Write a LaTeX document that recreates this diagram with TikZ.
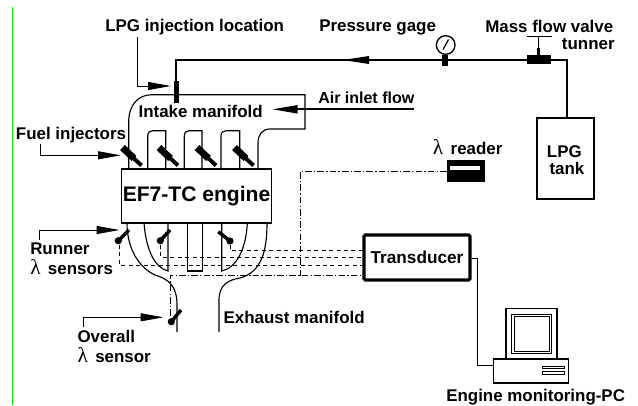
\documentclass[tikz,border=0pt]{standalone}
\usepackage{fontspec}
\setmainfont{Liberation Sans}
\newfontfamily\lamfont{Liberation Serif}
\usetikzlibrary{arrows.meta}
\newcommand{\lam}{{\mdseries\lamfont\fontsize{16pt}{16pt}\selectfont λ}\hspace{2pt}}
\tikzset{
  x=0.75pt,y=-0.75pt,
  lab/.style={inner sep=0pt,anchor=base west,font=\fontsize{12.7pt}{14pt}\selectfont\bfseries},
  thinline/.style={line width=0.75pt},
  wall/.style={line width=0.85pt},
  fuel/.style={line width=1.7pt},
  leader/.style={line width=0.6pt,-{Triangle[length=17pt,width=6pt]}},
  sig/.style={line width=0.65pt,dash pattern=on 3pt off 2.6pt},
  sigdot/.style={line width=0.65pt,dash pattern=on 5pt off 1.6pt on 1pt off 1.6pt},
  sensorstem/.style={line width=2.6pt},
  injwide/.style={line width=5.2pt},
  injtip/.style={line width=3pt},
  boxnode/.style={draw,inner sep=0pt,anchor=center},
}
\begin{document}
\begin{tikzpicture}
\useasboundingbox (0,0) rectangle (638,405);
\fill[white] (0,0) rectangle (638,405);
% green margin line
\coordinate (gt) at (12.5,7); \coordinate (gb) at (12.5,405);
\draw[line width=0.75pt,green!90!black] (gt) -- (gb);

% boxes
\node[boxnode,line width=1.3pt,minimum width=42.75pt,minimum height=60.75pt] (tank) at (565.5,158.5) {};
\node[boxnode,line width=1.1pt,minimum width=112.8pt,minimum height=40.5pt,font=\fontsize{15.8pt}{17pt}\selectfont\bfseries] (engine) at (196.5,196) {EF7-TC engine};
\node[boxnode,line width=2.3pt,rounded corners=1pt,minimum width=79.5pt,minimum height=33.75pt,font=\fontsize{12.9pt}{14pt}\selectfont\bfseries] (trans) at (417,257.5) {Transducer};
\node[boxnode,fill=black,minimum width=27.75pt,minimum height=15.4pt] (reader) at (465.5,170.7) {};
\fill[white] (450.3,165.7) rectangle (480.3,170);

% manifold
\draw[wall] (128.7,168) -- (128.7,122) .. controls (128.7,105) and (138,94.7) .. (152,94.7)
  -- (305,94.7) -- (305,129) -- (270,129) .. controls (262,129) and (258,135) .. (258,143) -- (258,168);
\foreach \a/\b in {147.7/165.7,184.3/202,221/239.7}{
  \draw[wall] (\a,168) -- (\a,136) .. controls (\a,132.5) and (\a+2,130.7) .. (\a+5,130.7) -- (\b,130.7) -- (\b,168);
}
% injectors
\foreach \d in {0,36.5,74.5,112}{
  \draw[injwide] (122.5+\d,147.5) -- (134+\d,158.5);
  \draw[injtip] (134+\d,158.5) -- (141.5+\d,165.5);
}

% exhaust
\draw[wall] (127,223) .. controls (127,250) and (140,268) .. (155,275) .. controls (168,279) and (177,285) .. (177,305) -- (177,332);
\draw[wall] (267,223) .. controls (267,250) and (262,272) .. (240,278) .. controls (228,280) and (219,285) .. (219,300) -- (219,332);
\draw[wall] (144,223) .. controls (146,250) and (155,268) .. (168,271) -- (168,223);
\draw[wall] (187.3,223) -- (187.3,271) -- (202.3,271) -- (202.3,223);
\draw[wall] (221.7,223) -- (221.7,271) .. controls (236,268) and (246,250) .. (247.3,223);

% fuel line
\coordinate (inj) at (176,81);
\coordinate (corner1) at (176,60);
\coordinate (corner2) at (566.7,60);
\draw[fuel] (inj) -- (corner1) -- (corner2) -- (tank.north -| corner2);
\fill (173.5,81) rectangle (178.5,103);
\fill (343,60) -- (369,56) -- (369,64) -- cycle;

% gauge
\node[draw,circle,line width=1pt,minimum size=14pt,inner sep=0pt,fill=white] (gauge) at (445.7,45) {};
\fill (442.3,55) rectangle (448.3,66);
\draw[line width=0.9pt] (443,49.5) -- (448.5,39.5);
% valve
\fill (526.7,55) rectangle (550.7,64);
\draw[line width=0.9pt] (526.7,36.7) -- (551.7,36.7);
\draw[line width=0.9pt] (538.3,37) -- (538.3,48);
\draw[line width=2.2pt] (538.3,47.5) -- (538.3,56);

% air inlet
\coordinate (airs) at (414,109.3);
\coordinate (aire) at (272.7,109.3);
\draw[line width=1.5pt] (airs) -- (297,109.3);
\fill (aire) -- (297.7,105) -- (297.7,113.6) -- cycle;

% sensors
\foreach \px/\py/\qx/\qy in {129/230/118.3/240.7, 170/230/160.3/240.7, 218.3/231.7/230/241, 181/310/171.3/321.7}{
  \draw[sensorstem] (\px,\py) -- (\qx,\qy);
  \fill (\qx,\qy) circle (3.6);
}

% signal wires
\coordinate (w1) at (119,245);
\coordinate (w2) at (160,245);
\coordinate (w3) at (230,245);
\coordinate (w4) at (170.5,316);
\draw[sig] (w1) -- (119,265) -- (trans.west |- 0,265);
\draw[sig] (w2) -- (160,257.3) -- (trans.west |- 0,257.3);
\draw[sig] (w3) -- (230,250.5) -- (trans.west |- 0,250.5);
\draw[sigdot] (w4) -- (170.5,275.5) -- (trans.west |- 0,275.5);
\draw[sigdot] (reader.west |- 0,171.7) -- (300,171.7) -- (300,275.5);

% PC
\node[boxnode,line width=1.1pt,minimum width=38.2pt,minimum height=38pt] (mon) at (531.5,333.7) {};
\node[boxnode,line width=1.1pt,minimum width=56.2pt,minimum height=18pt] (pc) at (531.2,371) {};
\draw[line width=0.7pt] (511.7,314.3) rectangle (551,353.3);
\draw[line width=0.5pt] (514.3,316.7) rectangle (549.7,351.7);
\draw[line width=0.55pt] (542.3,366) rectangle (564.3,368.7);
\draw[line width=0.55pt] (542.3,371.7) rectangle (564.3,374.3);
\draw[thinline] (trans.east |- 0,258) -- (477.3,258) -- (477.3,365) -- (pc.west |- 0,365);

% leaders
\coordinate (l1a) at (137,37.3); \coordinate (l1b) at (170.7,86);
\draw[leader] (l1a) |- (l1b);
\coordinate (l2a) at (40.3,144); \coordinate (l2b) at (120.7,155.3);
\draw[leader] (l2a) |- (l2b);
\coordinate (l3a) at (39.3,240); \coordinate (l3b) at (119.3,230);
\draw[leader] (l3a) |- (l3b);
\coordinate (l4a) at (83.3,327.3); \coordinate (l4b) at (163.3,317.3);
\draw[leader] (l4a) |- (l4b);

% labels
\node[lab] (t1) at (105,31) {LPG injection location};
\node[lab] (t2) at (319,31) {Pressure gage};
\node[lab] (t3) at (485,32) {Mass flow valve};
\node[lab] (t4) at (561.7,49) {tunner};
\node[lab] (t5) at (138.3,117.7) {Intake manifold};
\node[lab,font=\fontsize{12pt}{14pt}\selectfont\bfseries] (t6) at (318,103.3) {Air inlet flow};
\node[lab] (t7) at (15.7,139) {Fuel injectors};
\node[lab] (t8) at (30,254) {Runner};
\node[lab] (t9) at (30,274) {\lam\ sensors};
\node[lab] (t10) at (77.3,342.7) {Overall};
\node[lab] (t11) at (77.3,362) {\lam\ sensor};
\node[lab] (t12) at (223.3,323.3) {Exhaust manifold};
\node[lab] (t13) at (432.7,154) {\lam\ reader};
\node[lab] (t14) at (546.7,157.3) {LPG};
\node[lab] (t15) at (549.3,174) {tank};
\node[lab] (t16) at (446,401) {Engine monitoring-PC};
\end{tikzpicture}
\end{document}
